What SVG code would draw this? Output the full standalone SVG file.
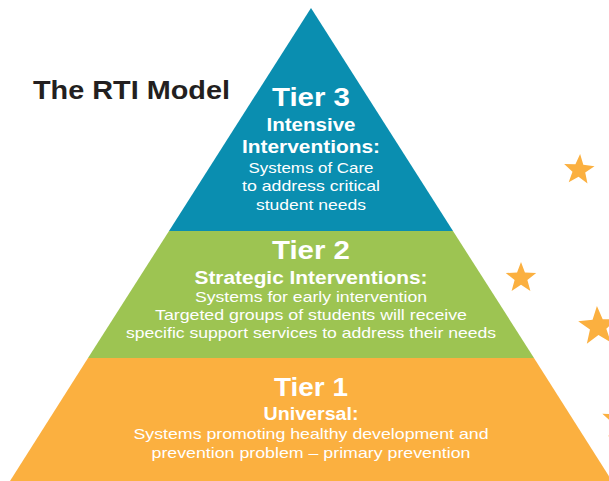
<svg xmlns="http://www.w3.org/2000/svg" width="609" height="481" viewBox="0 0 609 481">
<style>
text{font-family:"Liberation Sans",Arial,sans-serif;text-anchor:middle;fill:#ffffff}
.tier{font-size:26px;font-weight:700}
.sub{font-size:17.5px;font-weight:700}
.body{font-size:15px;font-weight:400}
.star{fill:#fbb040}
</style>
<defs>
<path id="star" d="M0,-1 L0.247,-0.34 L0.951,-0.309 L0.399,0.13 L0.588,0.809 L0,0.42 L-0.588,0.809 L-0.399,0.13 L-0.951,-0.309 L-0.247,-0.34 Z"/>
</defs>
<rect width="609" height="481" fill="#ffffff"/>
<g id="stars">
<use href="#star" class="star" transform="translate(579,170) rotate(4) scale(16)"/>
<use href="#star" class="star" transform="translate(521,278) scale(16)"/>
<use href="#star" class="star" transform="translate(598,326.5) rotate(-3) scale(20.5)"/>
<use href="#star" class="star" transform="translate(621,421) rotate(3) scale(20)"/>
</g>
<text x="33" y="99" textLength="197" lengthAdjust="spacingAndGlyphs" style="font-size:26px;font-weight:700;fill:#231f20;text-anchor:start">The RTI Model</text>
<g id="tier3">
<polygon points="311,8 453,231 169,231" fill="#0a8eb0"/>
<text class="tier" x="311" y="106" textLength="78" lengthAdjust="spacingAndGlyphs">Tier 3</text>
<text class="sub" x="311" y="131" textLength="89" lengthAdjust="spacingAndGlyphs">Intensive</text>
<text class="sub" x="311" y="153" textLength="138" lengthAdjust="spacingAndGlyphs">Interventions:</text>
<text class="body" x="311" y="173" textLength="125" lengthAdjust="spacingAndGlyphs">Systems of Care</text>
<text class="body" x="311" y="191" textLength="138" lengthAdjust="spacingAndGlyphs">to address critical</text>
<text class="body" x="311" y="210" textLength="110" lengthAdjust="spacingAndGlyphs">student needs</text>
</g>
<g id="tier2">
<polygon points="169,231 453,231 534,358 88,358" fill="#9dc452"/>
<text class="tier" x="311" y="259" textLength="78" lengthAdjust="spacingAndGlyphs">Tier 2</text>
<text class="sub" x="311" y="284" textLength="233" lengthAdjust="spacingAndGlyphs">Strategic Interventions:</text>
<text class="body" x="311" y="302" textLength="232" lengthAdjust="spacingAndGlyphs">Systems for early intervention</text>
<text class="body" x="311" y="320" textLength="312" lengthAdjust="spacingAndGlyphs">Targeted groups of students will receive</text>
<text class="body" x="311" y="338" textLength="370" lengthAdjust="spacingAndGlyphs">specific support services to address their needs</text>
</g>
<g id="tier1">
<polygon points="88,358 534,358 612,481 10,481" fill="#fbb040"/>
<text class="tier" x="311" y="396" textLength="74" lengthAdjust="spacingAndGlyphs">Tier 1</text>
<text class="sub" x="311" y="420" textLength="95" lengthAdjust="spacingAndGlyphs">Universal:</text>
<text class="body" x="311" y="439" textLength="355" lengthAdjust="spacingAndGlyphs">Systems promoting healthy development and</text>
<text class="body" x="311" y="458" textLength="319" lengthAdjust="spacingAndGlyphs">prevention problem – primary prevention</text>
</g>
<g id="connectors"/>
</svg>
